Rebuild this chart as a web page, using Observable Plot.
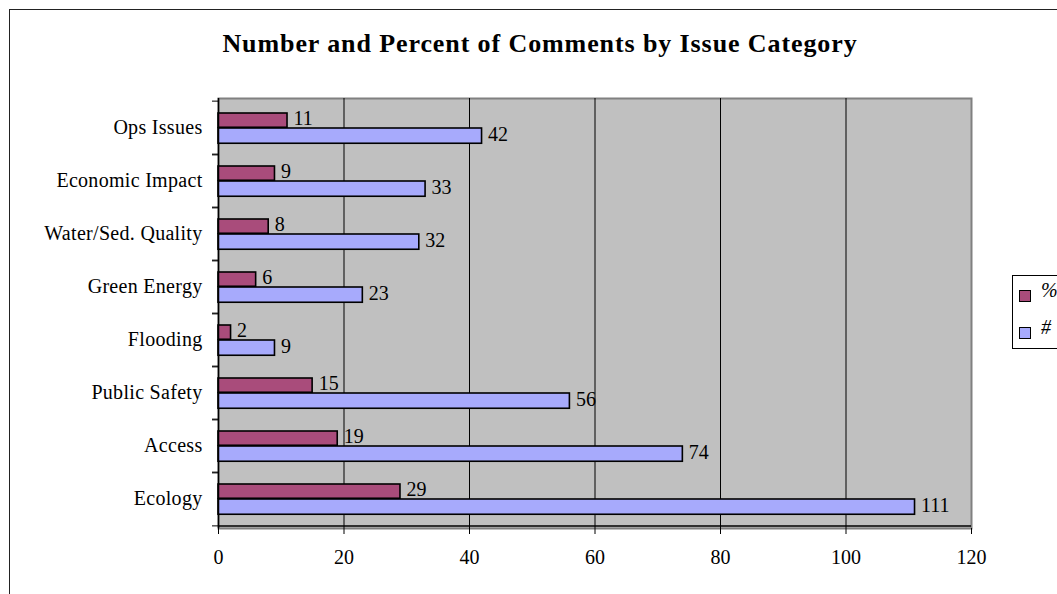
<!DOCTYPE html>
<html>
<head>
<meta charset="utf-8">
<script src="https://cdn.jsdelivr.net/npm/d3@7"></script>
<script src="https://cdn.jsdelivr.net/npm/@observablehq/plot@0.6"></script>
<style>
  html, body { margin: 0; padding: 0; background: #fff; width: 1057px; height: 594px; overflow: hidden; }
  #wrap { position: relative; width: 1057px; height: 594px; font-family: "Liberation Serif", "Times New Roman", serif; }
  #border { position: absolute; left: 9px; top: 9px; width: 1100px; height: 640px; border: 1.5px solid #222; box-sizing: border-box; }
  #title { position: absolute; left: 0; width: 1080px; top: 29px; line-height: normal; text-align: center; font-weight: bold; font-size: 26px; letter-spacing: 0.9px; color: #000; }
  #chart { position: absolute; left: 0; top: 0; }
  #legend { position: absolute; left: 1012px; top: 275px; width: 80px; height: 74px; border: 1px solid #000; box-sizing: border-box; background: #fff; }
  .item { position: absolute; left: 6px; font-size: 20px; font-style: italic; }
  .sw { position: absolute; left: 0; width: 10px; height: 10px; border: 1.5px solid #000; }
  .lab { position: absolute; left: 22px; top: -11px; }
  #chart svg text { }
  .ylab text { letter-spacing: 0.3px; }
</style>
</head>
<body>
<div id="wrap">
  <div id="border"></div>
  <div id="chart"></div>
  <div id="title">Number and Percent of Comments by Issue Category</div>
  <div id="legend"></div>
</div>
<script>
const categories = ["Ops Issues", "Economic Impact", "Water/Sed. Quality", "Green Energy", "Flooding", "Public Safety", "Access", "Ecology"];
const pctValues = [11, 9, 8, 6, 2, 15, 19, 29];
const countValues = [42, 33, 32, 23, 9, 56, 74, 111];
const xTicks = [0, 20, 40, 60, 80, 100, 120];
const seriesNames = ["%", "#"];
const seriesColors = ["#A94C7B", "#A7AAFC"];

const pctData = categories.map((c, i) => ({category: c, value: pctValues[i]}));
const countData = categories.map((c, i) => ({category: c, value: countValues[i]}));

const W = 1057, H = 594;
const mt = 98, mb = 66, ml = 218, mr = 86;
const band = (H - mt - mb) / categories.length;

const chart = Plot.plot({
  width: W,
  height: H,
  marginTop: mt,
  marginBottom: mb,
  marginLeft: ml,
  marginRight: mr,
  style: {fontFamily: "'Liberation Serif', 'Times New Roman', serif", background: "transparent", color: "#000"},
  x: {domain: [0, 120], ticks: xTicks},
  y: {domain: categories, padding: 0},
  marks: [
    Plot.frame({fill: "#C0C0C0", stroke: "#808080", strokeWidth: 2}),
    Plot.ruleX(xTicks.filter(t => t > 0 && t < 120), {stroke: "#000", strokeWidth: 1}),
    Plot.barX(pctData, {y: "category", x: "value", fill: seriesColors[0], stroke: "#000", strokeWidth: 1.6, insetTop: 12, insetBottom: band - 27}),
    Plot.barX(countData, {y: "category", x: "value", fill: seriesColors[1], stroke: "#000", strokeWidth: 1.6, insetTop: 27, insetBottom: band - 43}),
    Plot.text(pctData, {y: "category", x: "value", text: d => String(d.value), textAnchor: "start", dx: 6, dy: -9.5, fontSize: 20, fill: "#000"}),
    Plot.text(countData, {y: "category", x: "value", text: d => String(d.value), textAnchor: "start", dx: 6, dy: 6.5, fontSize: 20, fill: "#000"}),
    Plot.ruleY(categories, {dy: -band / 2, insetLeft: -6, insetRight: W - ml - mr, stroke: "#000", strokeWidth: 1}),
    Plot.ruleY(categories, {dy: band / 2, insetLeft: -6, insetRight: W - ml - mr, stroke: "#000", strokeWidth: 1}),
    Plot.ruleX([0], {stroke: "#000", strokeWidth: 1.5}),
    Plot.ruleY([categories[categories.length - 1]], {dy: band / 2, stroke: "#000", strokeWidth: 1.5}),
    Plot.axisX({ticks: xTicks, tickSize: 6, tickPadding: 15, fontSize: 20, label: null}),
    Plot.axisY({tickSize: 0, tickPadding: 16, fontSize: 20, label: null, className: "ylab"})
  ]
});
document.getElementById("chart").appendChild(chart);

const legend = document.getElementById("legend");
seriesNames.forEach((name, i) => {
  const item = document.createElement("div");
  item.className = "item";
  item.style.top = (14 + i * 37) + "px";
  item.innerHTML = `<div class="sw" style="background:${seriesColors[i]}"></div><div class="lab">${name}</div>`;
  legend.appendChild(item);
});
</script>
</body>
</html>
